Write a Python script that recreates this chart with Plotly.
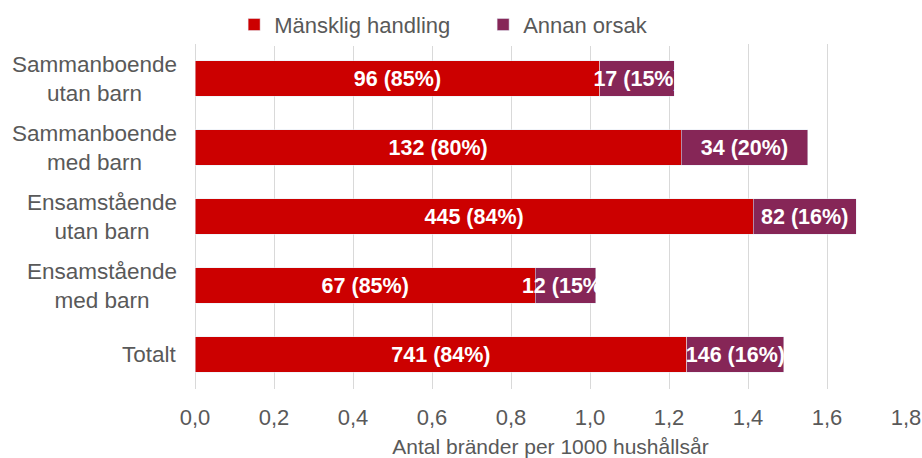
import plotly.graph_objects as go

categories = ["Sammanboende<br>utan barn", "Sammanboende<br>med barn", "Ensamstående<br>utan barn",
              "Ensamstående<br>med barn", "Totalt"]
rate_human = [1.025, 1.231, 1.413, 0.862, 1.245]
rate_other = [0.188, 0.320, 0.261, 0.152, 0.246]
count_human = [96, 132, 445, 67, 741]
pct_human = [85, 80, 84, 85, 84]
count_other = [17, 34, 82, 12, 146]
pct_other = [15, 20, 16, 15, 16]
series_names = ["Mänsklig handling", "Annan orsak"]
x_ticks = [0, 0.2, 0.4, 0.6, 0.8, 1.0, 1.2, 1.4, 1.6, 1.8]

RED = "#CC0000"
PURPLE = "#862657"
FONT = "Liberation Sans, Arial, sans-serif"
GRAY = "#595959"

fig = go.Figure()
fig.add_trace(go.Bar(
    y=categories, x=rate_human, orientation="h", name=series_names[0],
    marker=dict(color=RED),
    text=[f"{c} ({p}%)" for c, p in zip(count_human, pct_human)],
    textposition="inside", insidetextanchor="middle", constraintext="none", textangle=0,
    insidetextfont=dict(color="white", size=21.5, family=FONT, weight="bold"),
))
fig.add_trace(go.Bar(
    y=categories, x=rate_other, orientation="h", name=series_names[1],
    marker=dict(color=PURPLE),
    text=[f"{c} ({p}%)" for c, p in zip(count_other, pct_other)],
    textposition="inside", insidetextanchor="middle", constraintext="none", textangle=0,
    insidetextfont=dict(color="white", size=21.5, family=FONT, weight="bold"),
))

for cat in categories:
    fig.add_annotation(
        x=0, xref="paper", y=cat, yref="y", text=cat, showarrow=False,
        xanchor="right", align="center", xshift=-16,
        font=dict(size=22.5, color=GRAY, family=FONT),
    )

fig.update_layout(
    barmode="stack",
    bargap=0.49,
    width=922, height=458,
    margin=dict(l=195, r=16, t=44, b=69, autoexpand=False),
    plot_bgcolor="white", paper_bgcolor="white",
    separators=", ",
    font=dict(family=FONT, size=22, color=GRAY),
    legend=dict(
        orientation="h", xref="container", x=0.524, xanchor="center",
        yref="container", y=0.946, yanchor="middle",
        font=dict(size=22, color=GRAY), itemwidth=30, traceorder="normal",
        entrywidth=204, entrywidthmode="pixels",
    ),
    xaxis=dict(
        range=[0, 1.8], tickvals=x_ticks, tickformat=".1f",
        showgrid=True, gridcolor="#D9D9D9", gridwidth=1,
        zeroline=True, zerolinecolor="#D9D9D9", zerolinewidth=1,
        showline=False, ticks="", automargin=False, ticklabelstandoff=13,
        tickfont=dict(size=22, color=GRAY),
        title=dict(text="Antal bränder per 1000 hushållsår", font=dict(size=21, color=GRAY), standoff=10),
    ),
    yaxis=dict(
        autorange="reversed", showticklabels=False, showgrid=False, ticks="",
        zeroline=False, automargin=False,
    ),
)

fig.write_html("out.html", config={"displayModeBar": False},
               post_script="document.body.style.margin='0';")
